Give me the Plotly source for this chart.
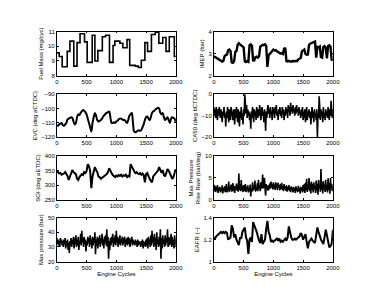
import plotly.graph_objects as go

# ---------------- data ----------------
fuel_x = [0, 40, 90, 175, 220, 285, 340, 390, 465, 510, 595, 640, 690, 765, 820, 885, 945, 975,
          1060, 1110, 1180, 1225, 1320, 1370, 1420, 1480, 1525, 1590, 1655, 1715, 1780, 1835, 1890, 1975, 2000]
fuel_mass = [9.55, 9.3, 8.6, 9.65, 10.35, 8.65, 10.25, 10.85, 10.3, 8.9, 10.75, 9.0, 9.7, 10.65, 10.75, 8.9,
             10.05, 10.35, 10.2, 9.9, 10.45, 8.7, 8.65, 8.55, 9.05, 10.25, 9.65, 10.8, 10.95, 10.2, 10.6,
             9.65, 10.65, 9.3, 9.3]

cyc20 = list(range(0, 2001, 20))
cyc10 = list(range(0, 2001, 10))

imep = [2.88, 2.84, 2.80, 2.77, 2.75, 2.70, 2.66, 2.64, 2.67, 2.88, 2.93, 2.95, 3.15, 3.18, 3.12, 2.60,
        2.58, 2.65, 3.08, 3.12, 3.40, 3.47, 3.42, 3.38, 3.30, 3.28, 2.65, 2.62, 2.66, 2.63, 3.38, 3.42,
        3.36, 2.66, 2.70, 2.84, 2.86, 2.82, 2.88, 3.32, 3.36, 3.40, 3.38, 3.42, 3.35, 2.40, 2.92, 2.98,
        3.08, 3.15, 3.18, 3.14, 3.16, 3.10, 3.08, 3.04, 3.00, 3.02, 2.98, 3.22, 3.26, 2.66, 2.64, 2.67,
        2.65, 2.63, 2.66, 2.64, 2.65, 2.67, 2.66, 2.74, 2.78, 2.80, 3.10, 3.15, 3.18, 2.98, 2.95, 2.96,
        3.40, 3.45, 3.48, 3.50, 3.52, 3.55, 2.82, 3.30, 3.28, 3.32, 2.85, 2.82, 3.30, 3.34, 3.28, 2.78,
        3.35, 3.38, 3.32, 2.72, 2.70]

evc = [-111.5, -112, -111, -110.5, -110, -111.5, -112, -111, -110, -107.5, -107, -106.5, -106, -106.5,
       -109, -111, -110, -106, -104, -104.5, -103, -102, -101, -101.5, -102.5, -104, -107, -110, -113,
       -116, -110, -106, -103, -105, -108, -109, -108.5, -108, -107, -105.5, -104.5, -103.5, -103, -102.5,
       -102, -106, -110, -110, -109.5, -110, -109, -108.5, -107.5, -107, -107, -107.5, -108, -108, -109,
       -110, -108, -105, -104, -103, -110, -116, -116.5, -116, -115.5, -115, -115.5, -115, -113, -111,
       -108, -106, -105.5, -107, -108, -106, -103, -102, -101.5, -100.5, -100, -99.5, -100, -103, -104,
       -103, -106, -108, -107, -106, -108, -110, -107, -106, -106.5, -107, -110]

soi = [350, 345, 340, 342, 336, 338, 340, 345, 338, 332, 318, 330, 335, 352, 345, 340, 338, 322, 318,
       328, 332, 338, 335, 345, 342, 348, 372, 365, 350, 290, 330, 345, 362, 352, 345, 330, 328, 322,
       326, 330, 332, 335, 338, 345, 358, 352, 342, 335, 330, 328, 333, 330, 335, 332, 336, 330, 334,
       332, 336, 328, 332, 330, 372, 362, 355, 348, 342, 345, 340, 338, 342, 336, 340, 335, 310, 338,
       342, 328, 322, 315, 310, 330, 335, 340, 345, 350, 362, 348, 342, 352, 335, 330, 345, 355, 350,
       340, 326, 322, 328, 342, 355]

eafr = [1.22, 1.21, 1.23, 1.24, 1.25, 1.26, 1.27, 1.26, 1.27, 1.26, 1.27, 1.26, 1.20, 1.21, 1.22, 1.33,
        1.30, 1.22, 1.25, 1.20, 1.18, 1.15, 1.22, 1.21, 1.27, 1.29, 1.31, 1.22, 1.19, 1.07, 1.20, 1.22,
        1.18, 1.36, 1.32, 1.30, 1.27, 1.22, 1.19, 1.17, 1.25, 1.16, 1.18, 1.20, 1.30, 1.37, 1.27, 1.24,
        1.18, 1.19, 1.18, 1.19, 1.20, 1.21, 1.19, 1.21, 1.18, 1.19, 1.18, 1.20, 1.21, 1.19, 1.22, 1.32,
        1.26, 1.22, 1.20, 1.20, 1.21, 1.20, 1.21, 1.22, 1.23, 1.26, 1.24, 1.20, 1.22, 1.25, 1.18, 1.12,
        1.18, 1.20, 1.21, 1.19, 1.18, 1.17, 1.24, 1.31, 1.27, 1.22, 1.20, 1.18, 1.16, 1.22, 1.29, 1.24,
        1.18, 1.13, 1.14, 1.16, 1.29]

ca50 = [-6, -10, -7, -11, -6, -9, -12, -7, -10, -6, -9,
        -11, -7, -10, -13, -8, -10, -6, -11, -9, -15,
        -8, -11, -6, -10, -13, -7, -9, -12, -6, -10,
        -8, -12, -7, -10, -14, -7, -11, -6, -9, -13,
        -7, -10, -15, -8, -11, -6, -12, -9, -14, -7,
        -10, 0, -6, -9, -5, -11, -7, -10, -8, -12,
        -9, -16, -8, -11, -6, -10, -13, -7, -10, -8,
        -12, -6, -9, -11, -7, -10, -5, -9, -12, -8,
        -6, -10, -8, -13, -7, -10, -17, -8, -11, -7,
        -5, -9, -7, -11, -6, -9, -8, -12, -6, -9,
        -7, -11, -6, -9, -5, -10, -8, -12, -7, -9,
        -6, -10, -8, -11, -6, -9, -7, -12, -8, -10,
        -6, -9, -7, -11, -5, -8, -6, -10, -4, -8,
        -6, -9, -5, -8, -7, -10, -6, -9, -5, -8,
        -7, -10, -6, -9, -8, -11, -7, -10, -6, -12,
        -8, -11, -7, -13, -9, -6, -12, -8, -10, -7,
        -11, -8, -14, -9, -6, -11, -8, -13, -7, -10,
        -9, -12, -7, -20, -9, -11, -1, -8, -12, -7,
        -10, -8, -13, -6, -11, -9, -12, -7, -10, -8,
        -11, -6, -9, -12, -7, -10, -3, -8, -11, -7]

mprr = [3.5, 2.0, 3.2, 1.8, 2.9, 2.2, 3.4, 1.6, 2.8, 2.1, 3.0,
        1.7, 2.6, 2.0, 3.3, 1.5, 2.7, 2.2, 3.1, 1.8, 2.5,
        3.6, 1.7, 2.8, 2.1, 4.2, 1.8, 3.0, 2.3, 3.5, 1.9,
        2.8, 3.8, 2.0, 3.2, 1.6, 2.9, 2.4, 3.7, 2.1, 3.3,
        1.9, 6.0, 2.3, 3.6, 2.0, 4.5, 2.2, 3.1, 1.8, 3.4,
        2.0, 2.8, 3.6, 1.8, 3.0, 2.2, 3.3, 1.7, 2.7, 2.0,
        3.5, 0.8, 2.6, 1.9, 4.0, 2.1, 3.2, 2.4, 4.4, 1.9,
        3.0, 2.2, 3.8, 2.0, 4.6, 2.5, 3.3, 2.0, 4.0, 2.6,
        3.4, 5.8, 2.6, 3.9, 5.0, 2.8, 1.0, 3.6, 2.5, 3.2,
        2.1, 3.4, 2.4, 3.8, 2.6, 4.2, 2.8, 3.6, 2.4, 4.0,
        2.6, 3.5, 2.3, 4.0, 2.7, 3.7, 2.2, 3.9, 2.8, 3.4,
        2.2, 3.6, 2.5, 3.9, 2.3, 3.2, 2.0, 3.6, 2.4, 3.1,
        2.1, 3.3, 1.9, 3.0, 2.3, 3.4, 2.0, 2.9, 1.8, 3.1,
        2.2, 2.8, 1.7, 3.0, 2.0, 2.7, 1.6, 3.1, 2.1, 2.6,
        1.8, 3.2, 2.0, 2.7, 1.5, 3.0, 2.2, 2.8, 1.7, 3.4,
        2.0, 3.6, 1.6, 3.9, 2.2, 4.8, 1.8, 3.5, 2.4, 5.0,
        2.0, 3.8, 1.5, 4.2, 2.3, 3.6, 1.7, 4.0, 2.5, 3.2,
        1.6, 4.4, 2.1, 3.7, 1.2, 4.5, 2.6, 3.4, 1.9, 7.0,
        2.2, 3.9, 1.5, 4.3, 2.4, 3.5, 1.8, 4.6, 2.2, 3.4,
        1.7, 4.9, 2.3, 3.8, 1.4, 5.0, 2.6, 3.6, 2.0, 3.3]

max_p = [36, 32, 35, 31, 34, 30, 36, 33, 35, 31, 34,
         30, 35, 32, 36, 29, 34, 31, 35, 28, 33,
         26, 34, 31, 36, 30, 35, 32, 37, 29, 36,
         32, 38, 30, 35, 31, 37, 28, 34, 32, 39,
         31, 41, 33, 36, 30, 37, 32, 35, 27, 34,
         31, 37, 33, 36, 30, 38, 32, 35, 29, 37,
         31, 36, 33, 40, 25, 35, 31, 37, 29, 36,
         32, 38, 30, 36, 33, 39, 31, 35, 29, 37,
         33, 38, 31, 42, 30, 37, 22, 34, 28, 36,
         31, 37, 33, 39, 30, 36, 32, 38, 31, 41,
         33, 37, 30, 36, 32, 38, 31, 35, 33, 37,
         31, 36, 33, 37, 30, 35, 32, 36, 31, 37,
         32, 36, 30, 35, 33, 37, 31, 35, 32, 34,
         31, 35, 32, 34, 30, 35, 31, 34, 32, 33,
         30, 34, 31, 35, 29, 34, 31, 33, 30, 35,
         31, 36, 29, 37, 32, 35, 30, 38, 31, 41,
         33, 37, 30, 39, 31, 36, 28, 40, 32, 35,
         30, 37, 31, 42, 22, 36, 29, 38, 32, 35,
         30, 38, 31, 36, 33, 42, 30, 37, 31, 36,
         32, 39, 30, 37, 31, 35, 29, 38, 32, 31]

x_ticks = [0, 500, 1000, 1500, 2000]

panels = [
    # (x, y, ytitle, yrange, yticks, shape, width, col, row)
    (fuel_x, fuel_mass, "Fuel Mass (mg/cyc)", [8, 11], [8, 9, 10, 11], "hv", 1.6, 0, 0),
    (cyc20, imep, "IMEP (bar)", [2, 4], [2, 3, 4], "linear", 2.4, 1, 0),
    (cyc20, evc, "EVC (deg aCTDC)", [-120, -90], [-120, -110, -100, -90], "spline", 2.0, 0, 1),
    (cyc10, ca50, "CA50 (deg bCTDC)", [-20, 0], [-20, -10, 0], "linear", 1.6, 1, 1),
    (cyc20, soi, "SOI (deg aETDC)", [250, 400], [250, 300, 350, 400], "linear", 2.0, 0, 2),
    (cyc10, mprr, "Max Pressure<br>Rise Rate (bar/deg)", [0, 10], [0, 5, 10], "linear", 1.6, 1, 2),
    (cyc10, max_p, "Max pressure (bar)", [20, 50], [20, 30, 40, 50], "linear", 1.6, 0, 3),
    (cyc20, eafr, "EAFR (–)", [1, 1.4], [1, 1.2, 1.4], "linear", 2.0, 1, 3),
]

W, H = 366, 288
col_px = [(48, 170), (209, 331)]
row_px = [(21, 66), (85, 129), (148, 193), (211, 256)]

fig = go.Figure()
font = dict(family="Liberation Sans, Arial, sans-serif", size=6, color="black")

for i, (xs, ys, ytitle, yr, yt, shape, lw, c, r) in enumerate(panels):
    n = i + 1
    xa = "x" if n == 1 else f"x{n}"
    ya = "y" if n == 1 else f"y{n}"
    fig.add_trace(go.Scatter(x=xs, y=ys, mode="lines", line=dict(color="black", width=lw, shape=shape),
                             xaxis=xa, yaxis=ya, showlegend=False, hoverinfo="skip"))
    x0, x1 = col_px[c]
    t0, t1 = row_px[r]
    xkey = "xaxis" if n == 1 else f"xaxis{n}"
    ykey = "yaxis" if n == 1 else f"yaxis{n}"
    axcommon = dict(showline=True, linecolor="black", linewidth=0.8, mirror="ticks", ticks="inside",
                    ticklen=2, tickwidth=0.6, tickcolor="black", showgrid=False, zeroline=False,
                    tickfont=font)
    fig.update_layout(**{
        xkey: dict(domain=[x0 / W, x1 / W], anchor=ya, range=[0, 2000], tickvals=x_ticks,
                   title=dict(text="Engine Cycles" if r == 3 else "", font=font, standoff=1),
                   **axcommon),
        ykey: dict(domain=[1 - t1 / H, 1 - t0 / H], anchor=xa, range=yr, tickvals=yt,
                   title=dict(text=ytitle, font=font, standoff=3), **axcommon),
    })

fig.update_layout(width=W, height=H, margin=dict(l=0, r=0, t=0, b=0),
                  paper_bgcolor="white", plot_bgcolor="white", font=font)

fig.write_html("out.html")
